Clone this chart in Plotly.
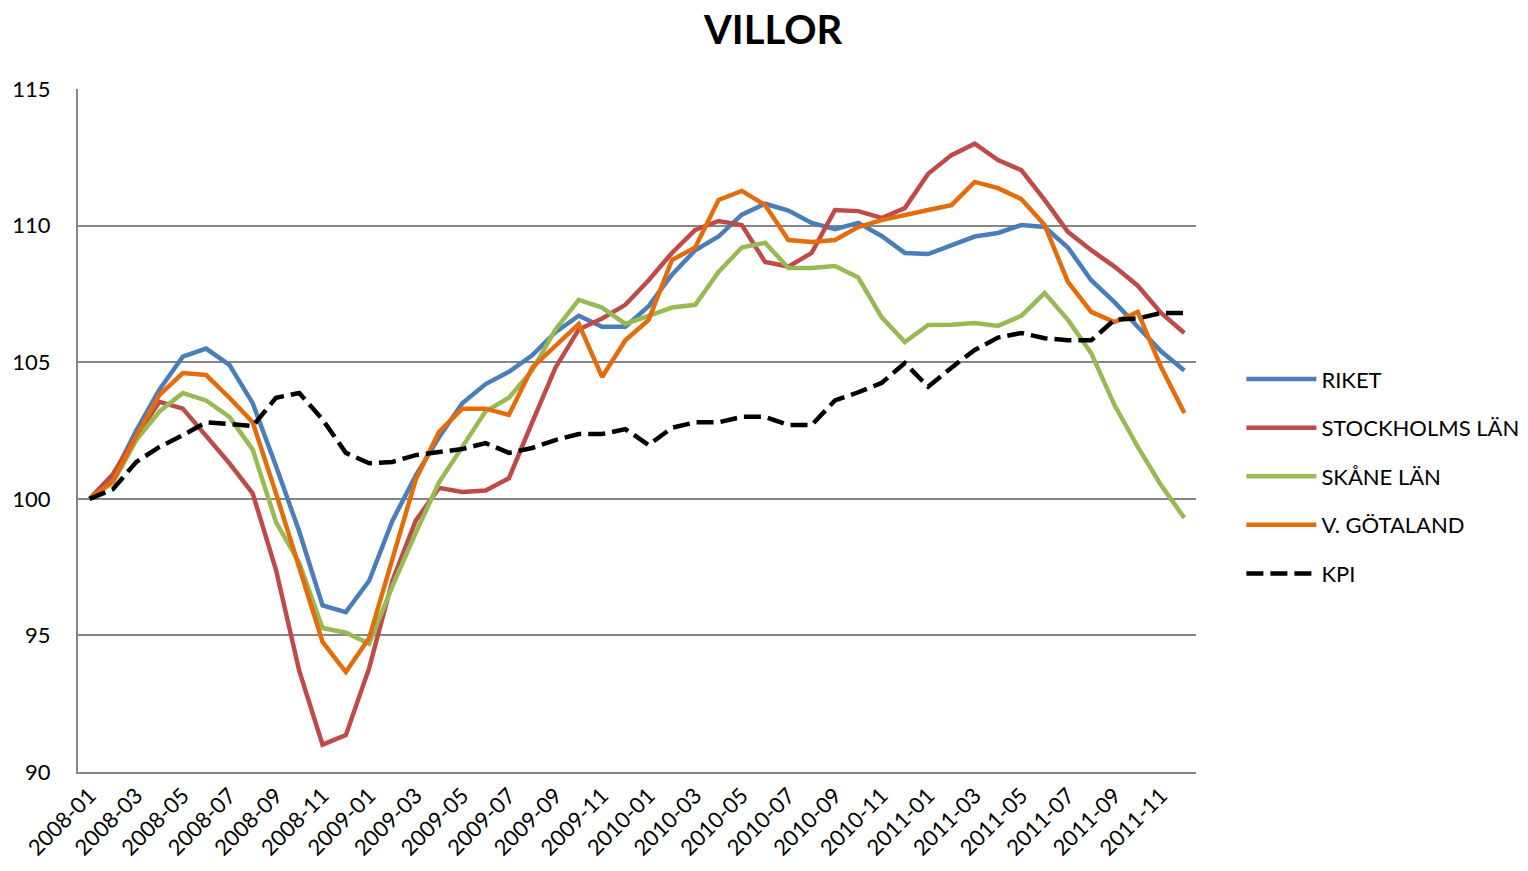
import plotly.graph_objects as go

months = [f"{y}-{m:02d}" for y in (2008, 2009, 2010, 2011) for m in range(1, 13)]

riket = [100, 100.8, 102.5, 104.0, 105.2, 105.5, 104.9, 103.5, 101.2, 98.8,
         96.1, 95.85, 97.0, 99.2, 100.85, 102.25, 103.5, 104.2, 104.65, 105.25,
         106.1, 106.7, 106.3, 106.3, 107.05, 108.2, 109.1, 109.6, 110.4, 110.8,
         110.55, 110.1, 109.87, 110.1, 109.62, 109.0, 108.96, 109.3, 109.6, 109.73,
         110.02, 109.95, 109.2, 108.0, 107.2, 106.3, 105.4, 104.7]

stockholm = [100, 100.9, 102.3, 103.55, 103.3, 102.3, 101.3, 100.2, 97.4, 93.7,
             91.0, 91.35, 93.8, 97.0, 99.2, 100.4, 100.25, 100.3, 100.75, 102.8,
             104.8, 106.2, 106.6, 107.1, 108.0, 109.0, 109.84, 110.17, 110.02, 108.67,
             108.5, 109.0, 110.57, 110.53, 110.28, 110.64, 111.9, 112.58, 113.0, 112.4,
             112.03, 110.94, 109.77, 109.1, 108.5, 107.8, 106.8, 106.07]

skane = [100, 100.6, 102.15, 103.2, 103.87, 103.6, 103.0, 101.8, 99.15, 97.65,
         95.27, 95.1, 94.7, 96.8, 98.75, 100.6, 101.9, 103.2, 103.7, 104.7,
         106.2, 107.28, 107.0, 106.4, 106.7, 107.0, 107.1, 108.3, 109.2, 109.37,
         108.45, 108.45, 108.52, 108.1, 106.65, 105.74, 106.36, 106.37, 106.43, 106.33,
         106.7, 107.53, 106.55, 105.33, 103.43, 101.9, 100.5, 99.3]

vgotaland = [100, 100.65, 102.3, 103.8, 104.6, 104.53, 103.7, 102.8, 100.2, 97.5,
             94.76, 93.66, 94.9, 97.8, 100.7, 102.45, 103.3, 103.3, 103.07, 104.8,
             105.6, 106.4, 104.46, 105.8, 106.55, 108.74, 109.2, 110.94, 111.27, 110.75,
             109.47, 109.4, 109.47, 109.95, 110.2, 110.4, 110.57, 110.75, 111.6, 111.37,
             110.97, 110.02, 107.94, 106.84, 106.47, 106.84, 104.82, 103.14]

kpi = [100, 100.35, 101.35, 101.9, 102.33, 102.8, 102.74, 102.66, 103.7, 103.87,
       102.9, 101.68, 101.3, 101.35, 101.6, 101.7, 101.82, 102.04, 101.68, 101.86,
       102.15, 102.37, 102.37, 102.55, 101.97, 102.6, 102.8, 102.8, 103.0, 103.0,
       102.7, 102.7, 103.6, 103.9, 104.24, 104.97, 104.1, 104.8, 105.45, 105.9,
       106.07, 105.88, 105.8, 105.8, 106.55, 106.6, 106.8, 106.8]

series = [
    ("RIKET", riket, "#4A7EBB", "solid"),
    ("STOCKHOLMS LÄN", stockholm, "#BE4B48", "solid"),
    ("SKÅNE LÄN", skane, "#98B954", "solid"),
    ("V. GÖTALAND", vgotaland, "#E46C0A", "solid"),
    ("KPI", kpi, "#000000", "17px,7px"),
]

tick_vals = months[::2]

fig = go.Figure()
for i, (name, vals, color, dash) in enumerate(series):
    fig.add_trace(go.Scatter(
        x=months, y=vals, mode="lines", name=name,
        legendgroup=f"g{i}",
        line=dict(color=color, width=4.5, dash=dash),
    ))

FONT = "Lato, Carlito, Calibri, sans-serif"

fig.update_layout(
    width=1528, height=871,
    paper_bgcolor="white", plot_bgcolor="white",
    margin=dict(l=78, r=332, t=89, b=99, autoexpand=False),
    font=dict(family=FONT, size=22, color="black"),
    title=dict(text="<b>VILLOR</b>", x=0.506, xref="container", xanchor="center",
               y=0.966, yref="container", yanchor="middle",
               font=dict(family=FONT, size=40, color="black")),
    showlegend=True,
    legend=dict(x=1.0406, xanchor="left", y=0.433, yanchor="middle",
                font=dict(family=FONT, size=22, color="black"),
                itemwidth=70, tracegroupgap=17, bgcolor="rgba(0,0,0,0)"),
)

fig.update_xaxes(
    type="category", range=[-0.5, 47.5], automargin=False,
    tickmode="array", tickvals=tick_vals, ticktext=tick_vals,
    tickangle=-45, tickfont=dict(family=FONT, size=22),
    showgrid=False, showline=True, linecolor="#868686", linewidth=2,
    ticks="", zeroline=False,
)
fig.update_yaxes(
    range=[90, 115], tickvals=[90, 95, 100, 105, 110, 115], automargin=False,
    tickfont=dict(family=FONT, size=22),
    showgrid=True, gridcolor="#868686", gridwidth=2,
    showline=True, linecolor="#868686", linewidth=2,
    ticks="", ticklabelstandoff=21, zeroline=False,
)

fig.write_html("out.html",
               config={"displayModeBar": False},
               post_script="document.body.style.margin='0px';document.body.style.overflow='hidden';")
